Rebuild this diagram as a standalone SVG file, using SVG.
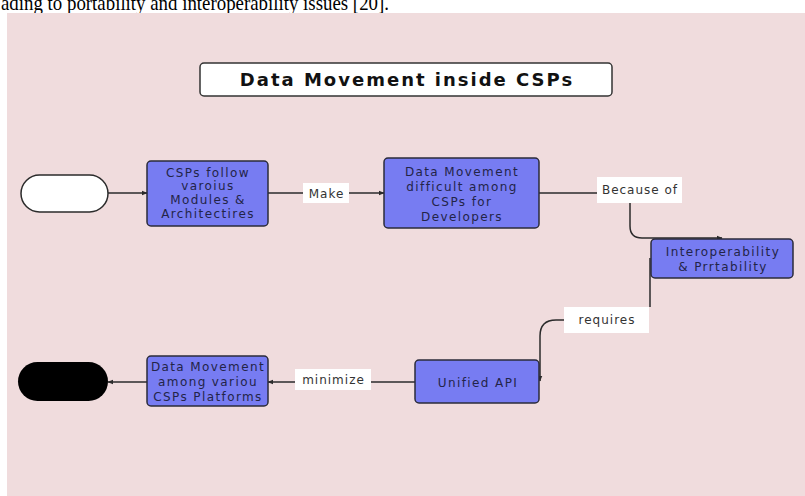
<svg xmlns="http://www.w3.org/2000/svg" width="805" height="496" viewBox="0 0 805 496">
<defs>
<style>
.bg{fill:#f0dcdd}
.box{fill:#777cf2;stroke:#2b2b3a;stroke-width:1.5}
.t{font-family:"DejaVu Sans",sans-serif;font-size:12px;fill:#232448;text-anchor:middle;letter-spacing:1.4px}
.lbl{fill:#ffffff}
.lt{font-family:"DejaVu Sans",sans-serif;font-size:12px;fill:#333;text-anchor:middle;letter-spacing:1px}
.c{fill:none;stroke:#2b2b2b;stroke-width:1.5}
</style>
<marker id="ah" viewBox="0 0 10 10" refX="9" refY="5" markerWidth="6" markerHeight="6" orient="auto-start-reverse" markerUnits="userSpaceOnUse">
<path d="M0,1 L10,5 L0,9 z" fill="#2b2b2b"/>
</marker>
</defs>
<rect width="805" height="496" fill="#ffffff"/>
<text x="1" y="10" font-family="Liberation Serif, serif" font-size="22" fill="#000" textLength="388" lengthAdjust="spacingAndGlyphs">ading to portability and interoperability issues [20].</text>
<rect class="bg" x="7" y="13" width="798" height="483"/>

<g id="title">
<rect x="200" y="63" width="412" height="33" rx="4" fill="#fff" stroke="#333" stroke-width="1.5"/>
<text x="407" y="85.5" font-family="DejaVu Sans, sans-serif" font-weight="bold" font-size="18" fill="#111" text-anchor="middle" letter-spacing="2">Data Movement inside CSPs</text>
</g>

<g id="connectors">
<line class="c" x1="108" y1="193" x2="147" y2="193" marker-end="url(#ah)"/>
<line class="c" x1="268" y1="193" x2="303" y2="193"/>
<line class="c" x1="349" y1="193" x2="384" y2="193" marker-end="url(#ah)"/>
<line class="c" x1="539" y1="193" x2="597" y2="193"/>
<path class="c" d="M630,203 V226 Q630,238 642,238 H722" marker-end="url(#ah)"/>
<path class="c" d="M650,258 V307"/>
<path class="c" d="M564,320 H556 Q540,320 540,336 V381" marker-end="url(#ah)"/>
<line class="c" x1="415" y1="382" x2="371" y2="382"/>
<line class="c" x1="295" y1="382" x2="268" y2="382" marker-end="url(#ah)"/>
<line class="c" x1="147" y1="382" x2="108" y2="382" marker-end="url(#ah)"/>
<g id="lbl-make"><rect class="lbl" x="303" y="183" width="46" height="20"/><text class="lt" x="326.5" y="197.5">Make</text></g>
<g id="lbl-because"><rect class="lbl" x="597" y="177" width="85" height="26"/><text class="lt" x="640" y="193.5">Because of</text></g>
<g id="lbl-requires"><rect class="lbl" x="564" y="307" width="85" height="26"/><text class="lt" x="607" y="323.5">requires</text></g>
<g id="lbl-minimize"><rect class="lbl" x="295" y="369" width="76" height="21"/><text class="lt" x="333.5" y="383.5">minimize</text></g>
</g>

<g id="start">
<rect x="21" y="175" width="87" height="37" rx="18.5" fill="#fff" stroke="#2b2b2b" stroke-width="1.5"/>
</g>

<g id="n1">
<rect class="box" x="147" y="161" width="121" height="65" rx="4"/>
<text class="t" x="208" y="176.5">CSPs follow</text>
<text class="t" x="208" y="190">varoius</text>
<text class="t" x="208" y="204">Modules &amp;</text>
<text class="t" x="208" y="218">Architectires</text>
</g>

<g id="n2">
<rect class="box" x="384" y="158" width="155" height="70" rx="4"/>
<text class="t" x="462" y="175.5">Data Movement</text>
<text class="t" x="462" y="190.5">difficult among</text>
<text class="t" x="462" y="205.5">CSPs for</text>
<text class="t" x="462" y="220.5">Developers</text>
</g>

<g id="n3">
<rect class="box" x="651" y="239" width="142" height="39" rx="4"/>
<text class="t" x="723" y="255.5">Interoperability</text>
<text class="t" x="723" y="270.5">&amp; Prrtability</text>
</g>

<g id="n4">
<rect class="box" x="415" y="360" width="124" height="43" rx="4"/>
<text class="t" x="478" y="386.5">Unified API</text>
</g>

<g id="n5">
<rect class="box" x="147" y="356" width="121" height="50" rx="4"/>
<text class="t" x="208" y="370.5">Data Movement</text>
<text class="t" x="208" y="385.5">among variou</text>
<text class="t" x="208" y="400.5">CSPs Platforms</text>
</g>

<g id="end">
<rect x="18" y="362" width="90" height="39" rx="19.5" fill="#000"/>
</g>
</svg>
